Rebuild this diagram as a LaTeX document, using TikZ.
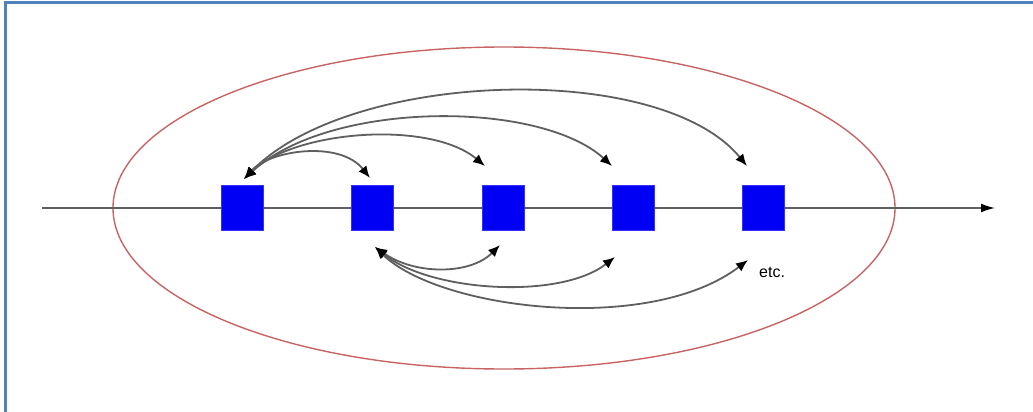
\documentclass[tikz,border=0pt]{standalone}
\usepackage{fontspec}
\setmainfont{Liberation Sans}
\usetikzlibrary{arrows.meta}
\definecolor{framblue}{RGB}{79,129,189}
\definecolor{ellred}{RGB}{200,100,100}
\definecolor{sqblue}{RGB}{0,0,245}
\definecolor{arcgray}{RGB}{95,95,95}
\tikzset{
  sq/.style={draw=sqblue!80!white, fill=sqblue, minimum width=42pt, minimum height=45pt, inner sep=0pt, line width=0.8pt},
  tipa/.style={Latex[length=12pt,width=10pt,color=black]},
  arc/.style={draw=arcgray, line width=1.8pt, {Latex[length=12pt,width=10pt,color=black]}-{Latex[length=12pt,width=10pt,color=black]}},
  axis/.style={draw=arcgray, line width=1.8pt, -{Latex[length=14pt,width=9pt,color=black]}},
}
\begin{document}
\begin{tikzpicture}[x=1pt,y=-1pt]
\useasboundingbox (0,0) rectangle (1033,412);
\fill[white] (0,0) rectangle (1033,412);
% frame
\draw[framblue, line width=3pt] (5,412) -- (5,3) -- (1033,3);
% ellipse
\draw[ellred, line width=1.4pt] (504,208) ellipse [x radius=391, y radius=161];
% axis
\coordinate (a0) at (42,208);
\coordinate (a1) at (995,208);
\draw[axis] (a0) -- (a1);
% squares
\node[sq] (s1) at (242,208) {};
\node[sq] (s2) at (372,208) {};
\node[sq] (s3) at (503,208) {};
\node[sq] (s4) at (633,208) {};
\node[sq] (s5) at (763,208) {};
% upper connector end points
\coordinate (u1) at (244,179);
\coordinate (u2) at (370,178);
\coordinate (u3) at (485,166);
\coordinate (u4) at (612,166);
\coordinate (u5) at (747,166);
\draw[arc] (u1) .. controls (270,150) and (340,140) .. (u2);
\draw[arc] (u1) .. controls (295,130) and (430,120) .. (u3);
\draw[arc] (u1) .. controls (330,100) and (540,100) .. (u4);
\draw[arc] (u1) .. controls (350,70) and (660,60) .. (u5);
% lower connector end points
\coordinate (l2) at (375,247);
\coordinate (l3) at (500,245);
\coordinate (l4) at (615,257);
\coordinate (l5) at (748,260);
\draw[arc] (l2) .. controls (415,275) and (470,275) .. (l3);
\draw[arc] (l2) .. controls (430,292) and (560,300) .. (l4);
\draw[arc] (l2) .. controls (440,310) and (650,335) .. (l5);
% text
\node[anchor=west, inner sep=0pt, font=\fontsize{16}{18}\selectfont] (etc) at (759,272) {etc.};
\end{tikzpicture}
\end{document}
